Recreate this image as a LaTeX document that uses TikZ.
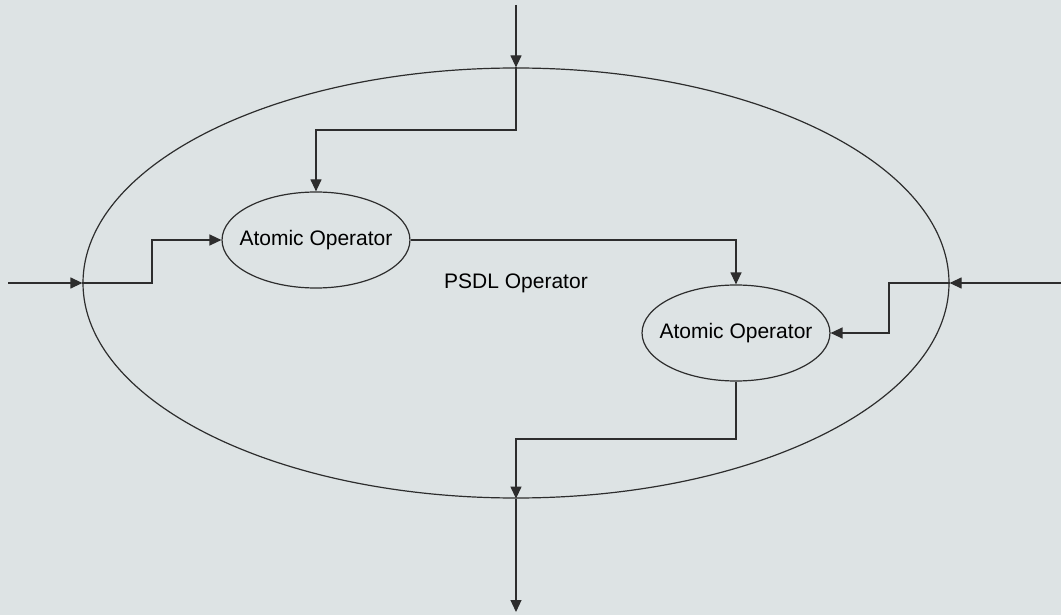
\documentclass[tikz,border=0pt]{standalone}
\usepackage{fontspec}
\setmainfont{Liberation Sans}
\usetikzlibrary{arrows.meta,shapes.geometric}
\definecolor{bgpaper}{RGB}{221,227,228}
\definecolor{inkline}{RGB}{45,45,45}

\begin{document}
\begin{tikzpicture}[x=0.5pt,y=-0.5pt,
  flow/.style={draw=inkline,line width=0.6pt,-{Triangle[length=6pt,width=5.5pt]}},
  oper/.style={ellipse,draw=inkline,line width=0.6pt,inner sep=0pt,font=\fontsize{10.5}{12}\selectfont}]
\fill[bgpaper] (0,0) rectangle (1061,615);
\useasboundingbox (0,0) rectangle (1061,615);
\node[oper,minimum width=433pt,minimum height=215pt] (psdl) at (516,283) {PSDL Operator};
\node[oper,inner xsep=-5pt,minimum height=48pt] (atomA) at (316,240) {Atomic Operator};
\node[oper,inner xsep=-5pt,minimum height=48pt] (atomB) at (736,333) {Atomic Operator};
\coordinate (topin) at (516,5);
\coordinate (leftin) at (8,283);
\coordinate (rightin) at (1061,283);
\coordinate (botout) at (516,612);
% inputs
\draw[flow] (topin) -- (psdl.north);
\draw[flow] (psdl.north) -- (516,130) -| (atomA.north);
\draw[flow] (leftin) -- (psdl.west);
\draw[flow] (psdl.west) -- (152,283) |- (atomA.west);
\draw[flow] (rightin) -- (psdl.east);
\draw[flow] (psdl.east) -- (889,283) |- (atomB.east);
% between operators
\draw[flow] (atomA.east) -| (atomB.north);
% output
\draw[flow] (atomB.south) -- (736,439) -| (psdl.south);
\draw[flow] (psdl.south) -- (botout);
\end{tikzpicture}
\end{document}
